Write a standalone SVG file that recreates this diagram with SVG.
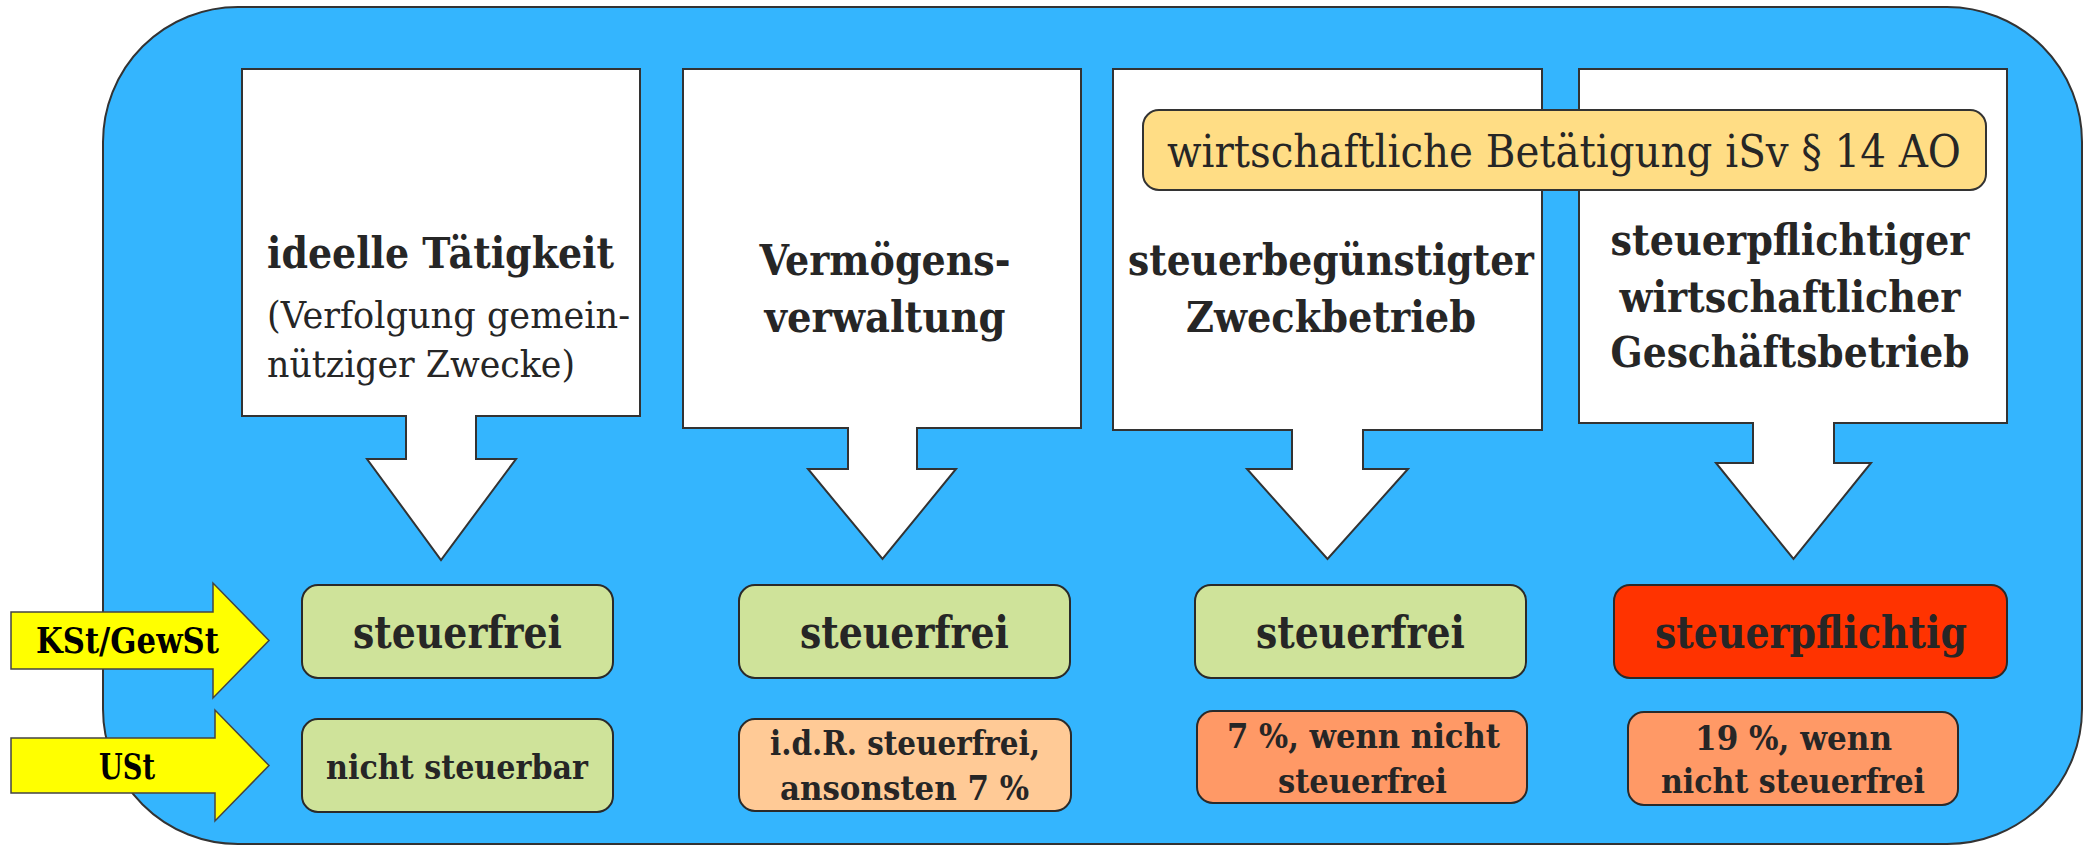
<svg xmlns="http://www.w3.org/2000/svg" width="2090" height="847" viewBox="0 0 2090 847">
<style>
.t{font-family:'DejaVu Serif Condensed','DejaVu Serif','Liberation Serif',serif;font-stretch:condensed;fill:#262626;text-anchor:middle}
.l{text-anchor:start}
.b{font-weight:bold}
.k{fill:#000}
.callout{fill:#fff;stroke:#333;stroke-width:2}
.box{stroke:#2a2a2a;stroke-width:2}
.green{fill:#CFE39A}
.peach{fill:#FFCA96}
.orange{fill:#FF9966}
.red{fill:#FF3300}
.yarrow{fill:#FFFF00;stroke:#444;stroke-width:1.5}
</style>
<rect width="2090" height="847" fill="#fff"/>
<rect id="background" x="103" y="7" width="1979" height="837" rx="135" ry="135" fill="#34B5FE" stroke="#333" stroke-width="2"/>

<g id="node-ideelle">
<path class="callout" d="M242,69 H640 V416 H476 V459 H516 L441,560 L367,459 H406 V416 H242 Z"/>
<text class="t b l" x="267" y="268" font-size="43" textLength="347" lengthAdjust="spacingAndGlyphs">ideelle Tätigkeit</text>
<text class="t l" x="267" y="328" font-size="38" textLength="363" lengthAdjust="spacingAndGlyphs">(Verfolgung gemein-</text>
<text class="t l" x="267" y="377" font-size="38" textLength="308" lengthAdjust="spacingAndGlyphs">nütziger Zwecke)</text>
</g>

<g id="node-vermoegen">
<path class="callout" d="M683,69 H1081 V428 H917 V469 H956 L882.5,559 L808,469 H848 V428 H683 Z"/>
<text class="t b" x="885" y="275" font-size="43" textLength="251" lengthAdjust="spacingAndGlyphs">Vermögens-</text>
<text class="t b" x="885" y="332" font-size="43" textLength="241" lengthAdjust="spacingAndGlyphs">verwaltung</text>
</g>

<g id="node-zweckbetrieb">
<path class="callout" d="M1113,69 H1542 V430 H1363 V469 H1408 L1327.5,559 L1247,469 H1292 V430 H1113 Z"/>
<text class="t b" x="1331" y="275" font-size="43" textLength="406" lengthAdjust="spacingAndGlyphs">steuerbegünstigter</text>
<text class="t b" x="1331" y="332" font-size="43" textLength="290" lengthAdjust="spacingAndGlyphs">Zweckbetrieb</text>
</g>

<g id="node-geschaeftsbetrieb">
<path class="callout" d="M1579,69 H2007 V423 H1834 V463 H1871 L1793.5,559 L1716,463 H1753 V423 H1579 Z"/>
<text class="t b" x="1790" y="255" font-size="43" textLength="359" lengthAdjust="spacingAndGlyphs">steuerpflichtiger</text>
<text class="t b" x="1790" y="312" font-size="43" textLength="341" lengthAdjust="spacingAndGlyphs">wirtschaftlicher</text>
<text class="t b" x="1790" y="367" font-size="43" textLength="359" lengthAdjust="spacingAndGlyphs">Geschäftsbetrieb</text>
</g>

<g id="node-label">
<rect x="1143" y="110" width="843" height="80" rx="16" fill="#FFDD85" stroke="#333" stroke-width="2"/>
<text class="t" x="1564" y="167" font-size="45" textLength="794" lengthAdjust="spacingAndGlyphs">wirtschaftliche Betätigung iSv § 14 AO</text>
</g>

<g id="node-kst">
<path class="yarrow" d="M11,612 H213 V583 L269,640.5 L213,698 V669 H11 Z"/>
<text class="t b k" x="127.5" y="653" font-size="35" textLength="183" lengthAdjust="spacingAndGlyphs">KSt/GewSt</text>
</g>
<g id="node-ust">
<path class="yarrow" d="M11,738 H215 V710 L269,765.5 L215,821 V793 H11 Z"/>
<text class="t b k" x="127" y="779" font-size="35" textLength="56" lengthAdjust="spacingAndGlyphs">USt</text>
</g>

<g id="node-a1">
<rect class="box green" x="302" y="585" width="311" height="93" rx="16"/>
<text class="t b" x="457.5" y="648" font-size="44" textLength="209" lengthAdjust="spacingAndGlyphs">steuerfrei</text>
</g>
<g id="node-b1">
<rect class="box green" x="739" y="585" width="331" height="93" rx="16"/>
<text class="t b" x="904.5" y="648" font-size="44" textLength="209" lengthAdjust="spacingAndGlyphs">steuerfrei</text>
</g>
<g id="node-c1">
<rect class="box green" x="1195" y="585" width="331" height="93" rx="16"/>
<text class="t b" x="1360.5" y="648" font-size="44" textLength="209" lengthAdjust="spacingAndGlyphs">steuerfrei</text>
</g>
<g id="node-d1">
<rect class="box red" x="1614" y="585" width="393" height="93" rx="16"/>
<text class="t b" x="1811" y="648" font-size="44" textLength="312" lengthAdjust="spacingAndGlyphs">steuerpflichtig</text>
</g>

<g id="node-a2">
<rect class="box green" x="302" y="719" width="311" height="93" rx="16"/>
<text class="t b" x="457" y="779" font-size="34" textLength="262" lengthAdjust="spacingAndGlyphs">nicht steuerbar</text>
</g>
<g id="node-b2">
<rect class="box peach" x="739" y="719" width="332" height="92" rx="16"/>
<text class="t b" x="905" y="755" font-size="34" textLength="270" lengthAdjust="spacingAndGlyphs">i.d.R. steuerfrei,</text>
<text class="t b" x="904.5" y="800" font-size="34" textLength="249" lengthAdjust="spacingAndGlyphs">ansonsten 7 %</text>
</g>
<g id="node-c2">
<rect class="box orange" x="1197" y="711" width="330" height="92" rx="16"/>
<text class="t b" x="1363.5" y="748" font-size="34" textLength="273" lengthAdjust="spacingAndGlyphs">7 %, wenn nicht</text>
<text class="t b" x="1362.5" y="793" font-size="34" textLength="169" lengthAdjust="spacingAndGlyphs">steuerfrei</text>
</g>
<g id="node-d2">
<rect class="box orange" x="1628" y="712" width="330" height="93" rx="16"/>
<text class="t b" x="1793.5" y="750" font-size="34" textLength="197" lengthAdjust="spacingAndGlyphs">19 %, wenn</text>
<text class="t b" x="1793" y="793" font-size="34" textLength="264" lengthAdjust="spacingAndGlyphs">nicht steuerfrei</text>
</g>

<g id="connectors"></g>
</svg>
